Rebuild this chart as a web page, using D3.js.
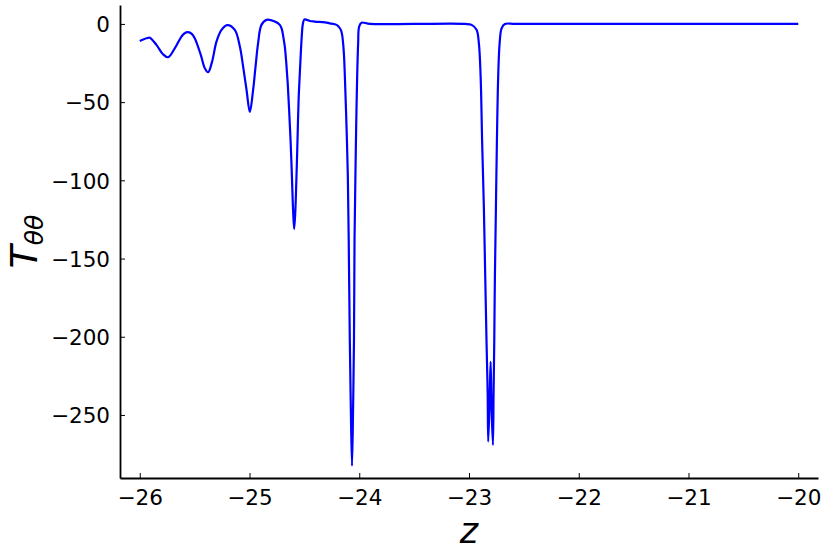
<!DOCTYPE html>
<html>
<head>
<meta charset="utf-8">
<script src="https://cdn.jsdelivr.net/npm/d3@7"></script>
<style>
  html, body { margin: 0; padding: 0; background: #fff; }
  svg { display: block; }
  text { font-family: "DejaVu Sans", sans-serif; }
</style>
</head>
<body>
<svg id="chart" width="830" height="554"></svg>
<script>
// Data
const zValues = [
  -26.0, -25.939, -25.909, -25.848, -25.788, -25.742, -25.681, -25.620, -25.594, -25.560,
  -25.526, -25.499, -25.444, -25.407, -25.377, -25.341, -25.301, -25.255, -25.204, -25.134,
  -25.088, -25.058, -25.027, -24.997, -24.967, -24.945, -24.922, -24.891, -24.845, -24.769,
  -24.724, -24.706, -24.692, -24.678, -24.665, -24.651, -24.639, -24.626, -24.614, -24.603,
  -24.593, -24.582, -24.573, -24.565, -24.558, -24.551, -24.541, -24.532, -24.523, -24.514,
  -24.500, -24.478, -24.450, -24.405, -24.314, -24.268, -24.207, -24.186, -24.168, -24.156,
  -24.147, -24.139, -24.131, -24.116, -24.104, -24.096, -24.086, -24.077, -24.066, -24.056,
  -24.048, -24.043, -24.035, -24.028, -24.019, -24.010, -24.001, -23.979, -23.903, -23.5,
  -23.037, -22.976, -22.931, -22.910, -22.894, -22.880, -22.864, -22.852, -22.840, -22.830,
  -22.825, -22.812, -22.803, -22.794, -22.782, -22.776, -22.770, -22.764, -22.755, -22.746,
  -22.734, -22.721, -22.703, -22.673, -22.58, -22.0, -21.0, -20.0
];
const tValues = [
  -10.9, -9.2, -8.8, -13.4, -19.4, -21.3, -15.6, -8.1, -6.1, -5.3,
  -6.4, -9.2, -19.8, -28.3, -30.9, -24.1, -11.3, -3.8, -0.8, -3.8,
  -14.5, -27.3, -42.2, -56.3, -42.2, -27.3, -12.4, -0.6, 2.6, 1.5,
  -0.6, -3.2, -8.3, -14.7, -24.9, -39.0, -55.0, -74.2, -96.5, -118.9,
  -131.1, -118.9, -99.7, -80.6, -61.4, -45.4, -30.7, -17.9, -7.0, 0.0,
  2.9, 2.6, 1.9, 1.5, 1.0, 0.4, -0.6, -1.9, -3.8, -7.0,
  -12.4, -20.0, -33.7, -65.7, -97.6, -138.1, -202.0, -244.7, -282.5, -244.7,
  -202.0, -138.1, -97.6, -65.7, -33.7, -12.3, -1.7, 0.8, 0.0, 0.0,
  0.0, -0.6, -3.8, -12.4, -33.7, -76.3, -119.0, -161.6, -204.0, -236.0,
  -267.0, -240.0, -216.0, -247.0, -269.2, -236.0, -204.0, -161.6, -119.0, -76.3,
  -33.7, -12.4, -2.8, 0.0, 0.0, 0.0, 0.0, 0.0
];
const xTicks = [-26, -25, -24, -23, -22, -21, -20];
const yTicks = [0, -50, -100, -150, -200, -250];

const points = zValues.map((z, i) => ({ z: z, t: tValues[i] }));

const svg = d3.select("#chart");
const mLeft = 120, mRight = 818, mTop = 5, mBottom = 478;

const x = d3.scaleLinear().domain([-26.18, -19.82]).range([mLeft, mRight]);
const y = d3.scaleLinear().domain([-290.3, 12.1]).range([mBottom, mTop]);

const fmt = d => (d < 0 ? "\u2212" + Math.abs(d) : String(d));

// Axes
const xAxis = d3.axisBottom(x).tickValues(xTicks).tickFormat(fmt).tickSizeInner(-5).tickSizeOuter(0).tickPadding(12);
const yAxis = d3.axisLeft(y).tickValues(yTicks).tickFormat(fmt).tickSizeInner(-5).tickSizeOuter(0).tickPadding(10);

const gx = svg.append("g").attr("transform", `translate(0,${mBottom})`).call(xAxis);
const gy = svg.append("g").attr("transform", `translate(${mLeft},0)`).call(yAxis);

[gx, gy].forEach(g => {
  g.select(".domain").attr("stroke", "#000").attr("stroke-width", 1.8);
  g.selectAll(".tick line").attr("stroke", "#000").attr("stroke-width", 1);
  g.selectAll(".tick text").attr("fill", "#000").attr("font-size", 21.5)
    .attr("font-family", "DejaVu Sans, sans-serif");
});
gy.selectAll(".tick text").attr("dy", "0.36em");
gx.selectAll(".tick text").attr("dy", "0.72em");

// Line
const line = d3.line()
  .x(d => x(d.z))
  .y(d => y(d.t))
  .curve(d3.curveCatmullRom.alpha(0.5));

svg.append("path")
  .datum(points)
  .attr("fill", "none")
  .attr("stroke", "#0000ff")
  .attr("stroke-width", 2.2)
  .attr("stroke-linejoin", "round")
  .attr("d", line);

// Axis labels
svg.append("text")
  .attr("x", (mLeft + mRight) / 2)
  .attr("y", 543)
  .attr("text-anchor", "middle")
  .attr("font-size", 35)
  .attr("font-style", "italic")
  .attr("fill", "#000")
  .text("z");

const ylab = svg.append("text")
  .attr("transform", `translate(37,${(mTop + mBottom) / 2}) rotate(-90)`)
  .attr("text-anchor", "middle")
  .attr("font-size", 38)
  .attr("font-style", "italic")
  .attr("fill", "#000");
ylab.append("tspan").text("T");
ylab.append("tspan").attr("font-size", 25).attr("dy", 6).text("\u03b8\u03b8");
</script>
</body>
</html>
